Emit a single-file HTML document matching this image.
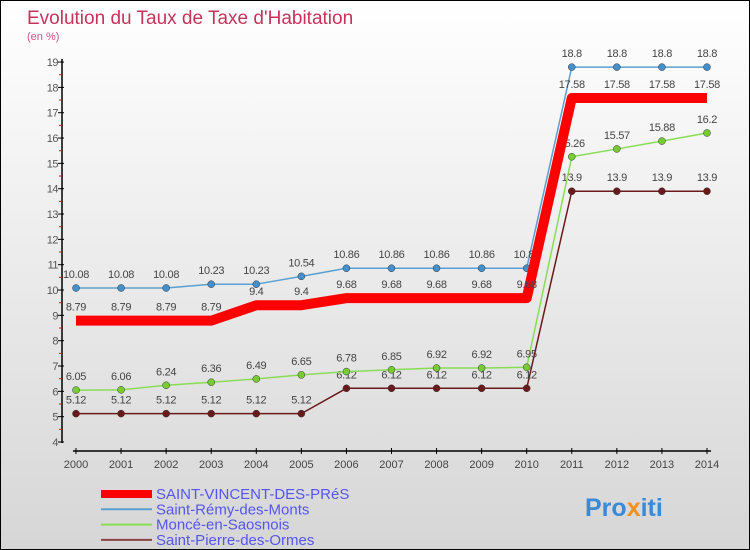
<!DOCTYPE html>
<html><head><meta charset="utf-8"><style>
body{margin:0}
#wrap{width:750px;height:550px;position:relative;box-sizing:border-box;border:1px solid #000;background:linear-gradient(#fff,#d6d6d6);font-family:"Liberation Sans",sans-serif;overflow:hidden}
svg text{font-family:"Liberation Sans",sans-serif}
</style></head><body>
<div id="wrap">
<svg id="s" width="750" height="550">
<text x="26" y="23" font-size="19" fill="#c8325a">Evolution du Taux de Taxe d'Habitation</text>
<text x="26" y="39" font-size="11" fill="#d0508a">(en %)</text>
<text x="584" y="515" font-size="25" font-weight="bold" fill="#3a8ad8">Pro<tspan fill="#f09020">x</tspan>iti</text>
</svg>
</div>
<script>
const years=["2000","2001","2002","2003","2004","2005","2006","2007","2008","2009","2010","2011","2012","2013","2014"];
const names=["SAINT-VINCENT-DES-PRéS","Saint-Rémy-des-Monts","Moncé-en-Saosnois","Saint-Pierre-des-Ormes"];
const sVincent=[8.79,8.79,8.79,8.79,9.4,9.4,9.68,9.68,9.68,9.68,9.68,17.58,17.58,17.58,17.58];
const sRemy=[10.08,10.08,10.08,10.23,10.23,10.54,10.86,10.86,10.86,10.86,10.86,18.8,18.8,18.8,18.8];
const sMonce=[6.05,6.06,6.24,6.36,6.49,6.65,6.78,6.85,6.92,6.92,6.95,15.26,15.57,15.88,16.2];
const sPierre=[5.12,5.12,5.12,5.12,5.12,5.12,6.12,6.12,6.12,6.12,6.12,13.9,13.9,13.9,13.9];
const yTicks=[4,5,6,7,8,9,10,11,12,13,14,15,16,17,18,19];
const svg=document.getElementById('s'),NS='http://www.w3.org/2000/svg';
const X=i=>75+i*45.07, Y=v=>441-(v-4)*25.33;
function mk(t,a,p){const e=document.createElementNS(NS,t);for(const k in a)e.setAttribute(k,a[k]);(p||svg).appendChild(e);return e;}
let ax=mk('line',{x1:61,y1:58,x2:61,y2:442,stroke:'#000','stroke-width':1.5});


let bx=mk('line',{x1:72,y1:450,x2:710,y2:450,stroke:'#000','stroke-width':1.5});


yTicks.forEach(v=>{mk('line',{x1:57,y1:Y(v),x2:63,y2:Y(v),stroke:'#000'});
 if(v<19)mk('line',{x1:58,y1:Y(v+0.5),x2:61,y2:Y(v+0.5),stroke:'#f00'});
 const t=mk('text',{x:57,y:Y(v)+4,'font-size':11,fill:'#555','text-anchor':'end','letter-spacing':'-0.5'});t.textContent=v;
 
 });
years.forEach((y,i)=>{mk('line',{x1:X(i),y1:447,x2:X(i),y2:453,stroke:'#000'});
 const t=mk('text',{x:X(i),y:467,'font-size':11,fill:'#444','text-anchor':'middle'});t.textContent=y;
 
 });
const series=[[sPierre,'#6a1a1a',1.5,'#6a1a1a'],[sMonce,'#88dd55',1.5,'#77cc33'],[sRemy,'#5aa0d0',1.5,'#4490cc'],[sVincent,'#f00',10,null]];
series.forEach(([d,c,w,mc],si)=>{
 const p=mk('polyline',{points:d.map((v,i)=>X(i)+','+Y(v)).join(' '),fill:'none',stroke:c,'stroke-width':w,'stroke-linejoin':'round'});
 
 
 d.forEach((v,i)=>{
  if(mc){const m=mk('circle',{cx:X(i),cy:Y(v),r:3.5,fill:mc,stroke:'#333','stroke-width':0.5});
  
  }
  const t=mk('text',{x:X(i),y:Y(v)-10,'font-size':11,fill:'#444','text-anchor':'middle','letter-spacing':'-0.3'});t.textContent=v;
  
  });});
const lc=['#f00','#5aa0d0','#88dd55','#8a4444'],lw=[8,2,2,2];
names.forEach((n,i)=>{const y=493+i*15.3;
 const l=mk('line',{x1:100,y1:y,x2:151,y2:y,stroke:lc[i],'stroke-width':lw[i]});
 
 
 const t=mk('text',{x:155,y:y+5,'font-size':15,fill:'#5555ee'});t.textContent=n;
 
 });
</script>
</body></html>
